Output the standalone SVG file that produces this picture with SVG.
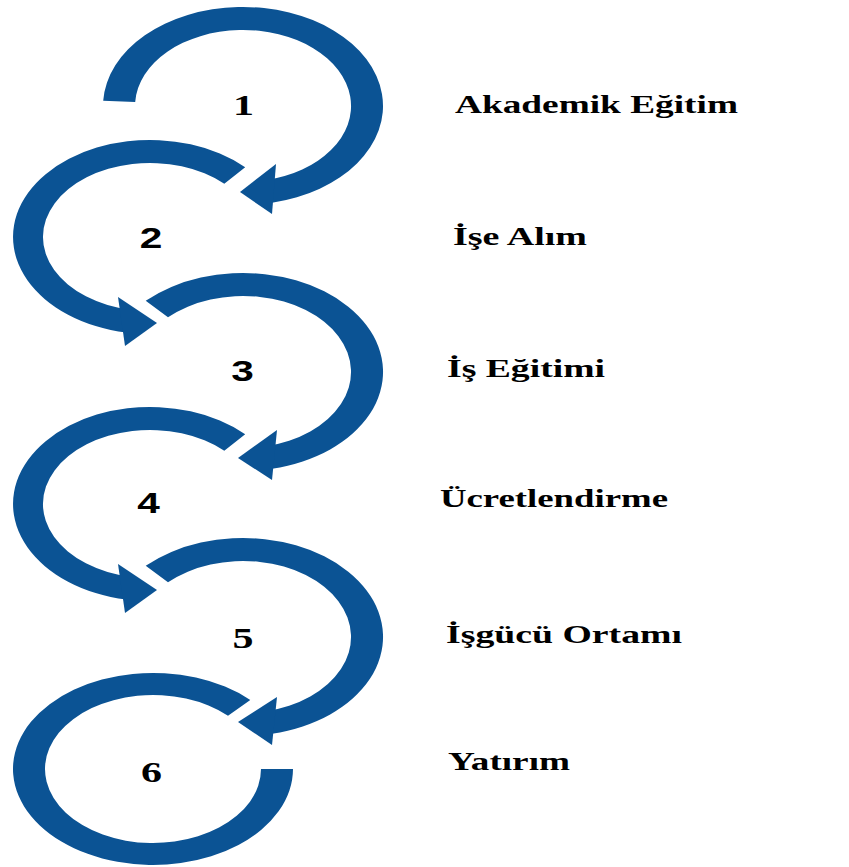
<svg xmlns="http://www.w3.org/2000/svg" width="849" height="867" viewBox="0 0 849 867">
<style>
.arc{fill:#0b5394;}
.lbl{font-family:"Liberation Serif","Times New Roman",serif;font-weight:bold;font-size:25px;fill:#000;}
.ns{font-family:"Liberation Sans",Arial,sans-serif;font-weight:bold;font-size:29px;fill:#000;}
.nr{font-family:"Liberation Serif","Times New Roman",serif;font-weight:bold;font-size:30px;fill:#000;}
</style>
<rect width="849" height="867" fill="#fff"/>
<g id="connectors">
  <!-- arc 1 -->
  <path class="arc" d="M103.2,100.8 A140,99 0 1 1 272.1,202.8 L265.5,180.3 A108,76 0 1 0 135.2,102 Z"/>
  <polygon class="arc" points="240,192 276,164 272,214"/>
  <!-- arc 2 -->
  <path class="arc" d="M245.2,167.2 A137,97 0 1 0 126.2,332.5 L131.4,309.9 A107,74 0 1 1 224.3,183.8 Z"/>
  <polygon class="arc" points="157,323 118,297 125,346"/>
  <!-- arc 3 -->
  <path class="arc" d="M145.7,300.8 A140,99 0 1 1 272.1,468.8 L265.5,446.3 A108,76 0 1 0 168,317.3 Z"/>
  <polygon class="arc" points="238,458 277,430 272,480"/>
  <!-- arc 4 -->
  <path class="arc" d="M245.2,434.2 A137,97 0 1 0 126.2,599.5 L131.4,576.9 A107,74 0 1 1 224.3,450.8 Z"/>
  <polygon class="arc" points="157,590 118,564 125,613"/>
  <!-- arc 5 -->
  <path class="arc" d="M145.7,565.8 A140,99 0 1 1 272.1,733.8 L265.5,711.3 A108,76 0 1 0 168,582.3 Z"/>
  <polygon class="arc" points="238,722 277,697 272,745"/>
  <!-- arc 6 -->
  <path class="arc" d="M250.3,699.9 A140,96 0 1 0 293,769 L261,769 A108,74 0 1 1 228,715.8 Z"/>
</g>
<g id="node1">
  <text class="nr" text-anchor="middle" transform="translate(243.5,115) scale(1.4,1)">1</text>
  <text class="lbl" x="455" y="113" textLength="283" lengthAdjust="spacingAndGlyphs">Akademik Eğitim</text>
</g>
<g id="node2">
  <text class="ns" text-anchor="middle" transform="translate(151,248) scale(1.4,1)">2</text>
  <text class="lbl" x="453" y="245" textLength="134" lengthAdjust="spacingAndGlyphs">İşe Alım</text>
</g>
<g id="node3">
  <text class="ns" text-anchor="middle" transform="translate(242.5,381) scale(1.4,1)">3</text>
  <text class="lbl" x="447" y="377" textLength="158" lengthAdjust="spacingAndGlyphs">İş Eğitimi</text>
</g>
<g id="node4">
  <text class="ns" text-anchor="middle" transform="translate(148.5,513) scale(1.4,1)">4</text>
  <text class="lbl" x="440" y="507" textLength="228" lengthAdjust="spacingAndGlyphs">Ücretlendirme</text>
</g>
<g id="node5">
  <text class="nr" text-anchor="middle" transform="translate(243,648) scale(1.4,1)">5</text>
  <text class="lbl" x="446" y="643" textLength="236" lengthAdjust="spacingAndGlyphs">İşgücü Ortamı</text>
</g>
<g id="node6">
  <text class="nr" text-anchor="middle" transform="translate(151.5,782) scale(1.4,1)">6</text>
  <text class="lbl" x="448" y="770" textLength="122" lengthAdjust="spacingAndGlyphs">Yatırım</text>
</g>
</svg>
